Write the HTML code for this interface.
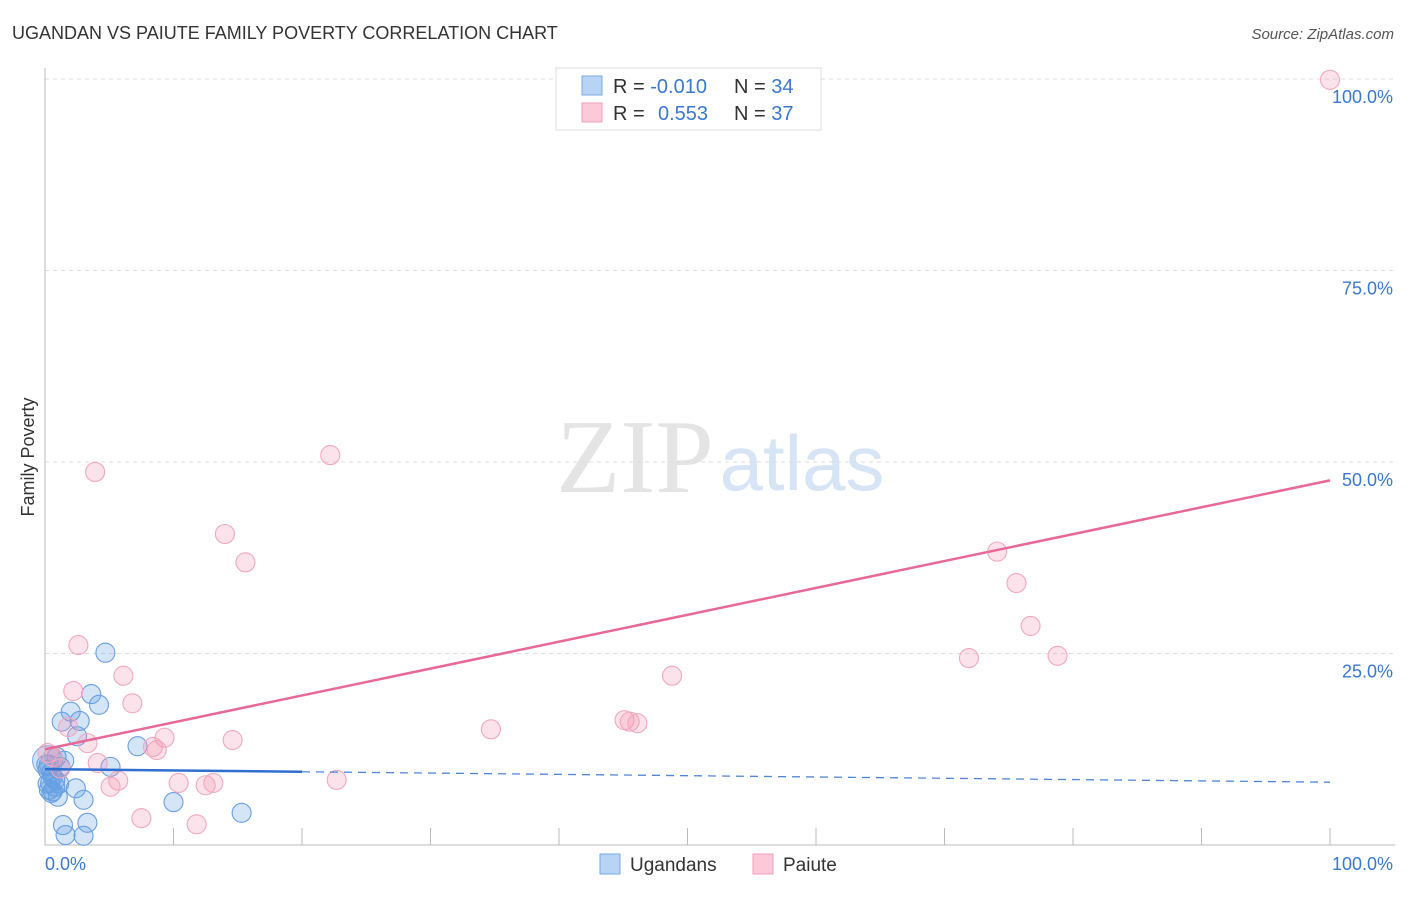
<!DOCTYPE html>
<html><head><meta charset="utf-8"><style>
body{margin:0;background:#fff;font-family:"Liberation Sans",sans-serif}
</style></head><body>
<svg id="chart" width="1406" height="892" xmlns="http://www.w3.org/2000/svg" font-family="Liberation Sans, sans-serif">
<text x="12" y="39" font-size="18" fill="#333">UGANDAN VS PAIUTE FAMILY POVERTY CORRELATION CHART</text>
<text x="1394" y="39" font-size="15" fill="#555" text-anchor="end" font-style="italic">Source: ZipAtlas.com</text>
<text x="635" y="492" font-size="105" fill="#e4e4e4" text-anchor="middle" font-family="Liberation Serif, serif">ZIP</text>
<text x="802" y="490" font-size="78" fill="#d6e4f5" text-anchor="middle">atlas</text>
<g id="grid"></g>
<g id="axes"></g>
<g id="points"></g>
<g id="lines"></g>
<text x="34" y="457" font-size="18" fill="#333" text-anchor="middle" transform="rotate(-90 34 457)">Family Poverty</text>
<g>
<rect x="556" y="68" width="265" height="62" fill="#fff" stroke="#ddd"/>
<rect x="582" y="76" width="20" height="19" fill="#b8d4f5" stroke="#7aa8e0"/>
<rect x="582" y="103" width="20" height="19" fill="#fbc9d8" stroke="#f0a0b8"/>
<text x="613" y="93" font-size="20" fill="#333">R = <tspan fill="#3a78d0">-0.010</tspan></text>
<text x="734" y="93" font-size="20" fill="#333">N = <tspan fill="#3a78d0">34</tspan></text>
<text x="613" y="120" font-size="20" fill="#333">R = <tspan fill="#3a78d0" x="658">0.553</tspan></text>
<text x="734" y="120" font-size="20" fill="#333">N = <tspan fill="#3a78d0">37</tspan></text>
</g>
<g>
<rect x="600" y="854" width="20" height="20" fill="#b8d4f5" stroke="#7aa8e0"/>
<text x="630" y="871" font-size="19" fill="#333">Ugandans</text>
<rect x="753" y="854" width="20" height="20" fill="#fbc9d8" stroke="#f0a0b8"/>
<text x="783" y="871" font-size="19" fill="#333">Paiute</text>
</g>
</svg>
<script>
const yTicks=[25,50,75,100];
const yTickLabels=["25.0%","50.0%","75.0%","100.0%"];
const blueX=[4.7,3.6,4.2,2.0,1.3,2.7,2.5,7.2,5.1,2.4,3.0,10.0,15.3,1.4,3.3,1.6,3.0,0.9,1.2,0.4,0.8,0.5,1.0,0.6,0.2,0.3,0.5,0.8,0.3,1.5,0.6,1.1,0.2,0.1];
const blueY=[25.1,19.7,18.3,17.4,16.1,16.2,14.2,12.9,10.2,7.4,5.9,5.6,4.2,2.6,2.9,1.3,1.2,11.5,10.2,8.1,7.6,6.8,6.3,8.9,9.8,7.2,9.5,8.5,10.5,11.0,7.0,8.0,8.0,10.5];
const pinkX=[2.6,6.1,2.2,6.8,1.8,3.3,9.3,14.6,8.4,8.7,4.1,5.7,5.1,10.4,12.5,13.1,7.5,11.8,0.6,1.2,0.2,3.9,22.2,14.0,15.6,100,74.1,75.6,76.7,78.8,71.9,48.8,45.1,45.5,46.1,34.7,22.7];
const pinkY=[26.1,22.1,20.1,18.5,15.4,13.3,14.0,13.7,12.8,12.4,10.7,8.4,7.6,8.1,7.8,8.1,3.5,2.7,11.5,10.0,12.0,48.7,50.9,40.6,36.9,99.9,38.3,34.2,28.6,24.7,24.4,22.1,16.3,16.1,15.9,15.1,8.5];
const blueLine=[9.9,8.2];
const pinkLine=[12.5,47.6];
const NS="http://www.w3.org/2000/svg";
const X=v=>45+v*12.85, Y=v=>845-v*7.66;
function mk(t,a,p){const e=document.createElementNS(NS,t);for(const k in a)e.setAttribute(k,a[k]);document.getElementById(p).appendChild(e);return e;}
yTicks.forEach((t,i)=>{
 const g=mk('line',{x1:45,x2:1395,y1:Y(t),y2:Y(t),stroke:'#ddd','stroke-dasharray':'4,4'},'grid');
 
 
 const l=mk('text',{x:1393,y:Y(t)+24,'font-size':18,fill:'#3a78d0','text-anchor':'end'},'axes');
 l.textContent=yTickLabels[i];
 
 
});
let a=mk('line',{x1:45,x2:45,y1:68,y2:845,stroke:'#bbb'},'axes');


a=mk('line',{x1:45,x2:1395,y1:845,y2:845,stroke:'#bbb'},'axes');


for(let i=1;i<=10;i++){const t=mk('line',{x1:X(i*10),x2:X(i*10),y1:828,y2:845,stroke:'#bbb'},'axes');
 
 }
[["0.0%",45,'start'],["100.0%",1393,'end']].forEach(d=>{const t=mk('text',{x:d[1],y:870,'font-size':18,fill:'#3a78d0','text-anchor':d[2]},'axes');t.textContent=d[0];
 
 });
let big=mk('circle',{cx:X(0.2),cy:Y(11),r:15,fill:'rgba(100,160,230,0.3)',stroke:'#7aa8e0'},'points');


blueX.forEach((x,i)=>{const c=mk('circle',{cx:X(x),cy:Y(blueY[i]),r:9.5,fill:'rgba(100,160,230,0.28)',stroke:'#6a9fe0','stroke-width':1.1},'points');
 
 });
pinkX.forEach((x,i)=>{const c=mk('circle',{cx:X(x),cy:Y(pinkY[i]),r:9.5,fill:'rgba(245,150,180,0.28)',stroke:'#f2a8bf','stroke-width':1.1},'points');
 
 });
const by=x=>blueLine[0]+(blueLine[1]-blueLine[0])*x/100;
let l=mk('line',{x1:X(0),y1:Y(by(0)),x2:X(20),y2:Y(by(20)),stroke:'#2f6fd0','stroke-width':2.5},'lines');


l=mk('line',{x1:X(20),y1:Y(by(20)),x2:X(100),y2:Y(by(100)),stroke:'#4f86d8','stroke-width':1.3,'stroke-dasharray':'8,6'},'lines');


l=mk('line',{x1:X(0),y1:Y(pinkLine[0]),x2:X(100),y2:Y(pinkLine[1]),stroke:'#e8689a','stroke-width':2.5},'lines');


</script>
</body></html>
